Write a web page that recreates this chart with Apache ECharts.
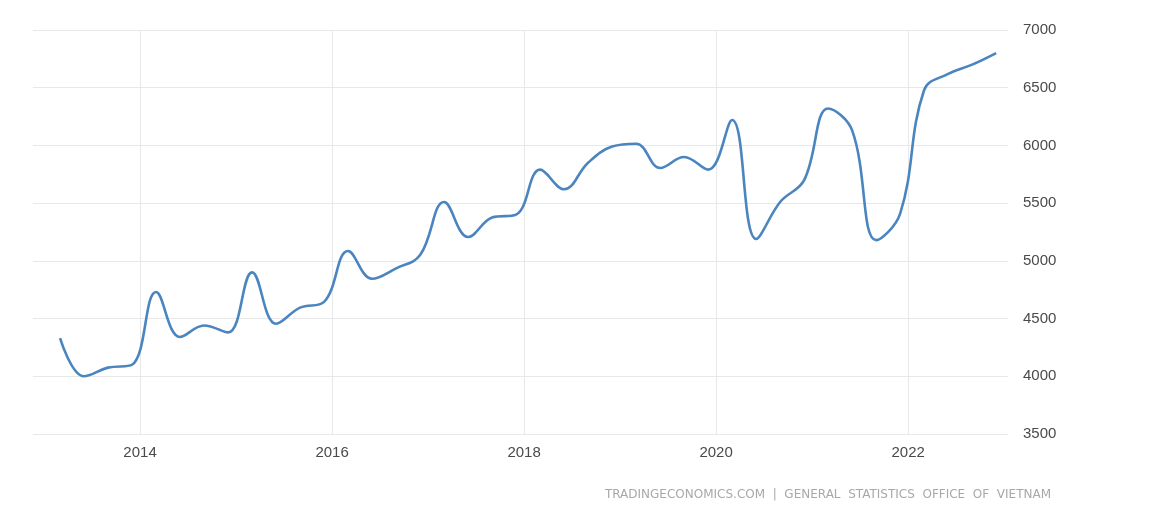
<!DOCTYPE html>
<html>
<head>
<meta charset="utf-8">
<title>Vietnam Average Monthly Income</title>
<script src="https://cdn.jsdelivr.net/npm/echarts@6/dist/echarts.min.js"></script>
<style>
  html, body { margin: 0; padding: 0; background: #ffffff; }
  #chart { width: 1163px; height: 509px; }
</style>
</head>
<body>
<div id="chart"></div>
<script>
// Quarterly observations, 2013 Q1 .. 2022 Q4 (thousand VND per month)
const quarters = [
  '2013Q1','2013Q2','2013Q3','2013Q4',
  '2014Q1','2014Q2','2014Q3','2014Q4',
  '2015Q1','2015Q2','2015Q3','2015Q4',
  '2016Q1','2016Q2','2016Q3','2016Q4',
  '2017Q1','2017Q2','2017Q3','2017Q4',
  '2018Q1','2018Q2','2018Q3','2018Q4',
  '2019Q1','2019Q2','2019Q3','2019Q4',
  '2020Q1','2020Q2','2020Q3','2020Q4',
  '2021Q1','2021Q2','2021Q3','2021Q4',
  '2022Q1','2022Q2','2022Q3','2022Q4'
];
const income = [
  4330, 4000, 4075, 4100,
  4730, 4340, 4440, 4380,
  4900, 4455, 4595, 4645,
  5085, 4845, 4935, 5050,
  5510, 5207, 5375, 5400,
  5790, 5620, 5850, 5990,
  6015, 5805, 5900, 5790,
  6220, 5190, 5510, 5700,
  6320, 6130, 5180, 5410,
  6480, 6620, 6700, 6800
];
const yearTicks = [2014, 2016, 2018, 2020, 2022];
const sourceText = 'TRADINGECONOMICS.COM  |  GENERAL  STATISTICS  OFFICE  OF  VIETNAM';

// each quarter is placed at the first day of its last month
function quarterToYear(q) {
  const y = parseInt(q.slice(0, 4), 10);
  const n = parseInt(q.slice(5), 10);
  return y + (3 * n - 1) / 12;
}
const points = quarters.map((q, i) => [quarterToYear(q), income[i]]);

const chart = echarts.init(document.getElementById('chart'), null, { renderer: 'canvas' });
chart.setOption({
  backgroundColor: '#ffffff',
  animation: false,
  grid: { left: 33, right: 155, top: 30, bottom: 75 },
  xAxis: {
    type: 'value',
    min: 2012.885,
    max: 2023.04,
    axisLine: { show: false },
    axisTick: { show: false, customValues: yearTicks },
    axisLabel: {
      customValues: yearTicks,
      formatter: v => String(Math.round(v)),
      color: '#4a4a4a',
      fontFamily: 'Liberation Sans',
      fontSize: 15,
      margin: 11
    },
    splitLine: { show: true, lineStyle: { color: '#e8e8e8', width: 1 } }
  },
  yAxis: {
    type: 'value',
    position: 'right',
    min: 3500,
    max: 7000,
    interval: 500,
    axisLine: { show: false },
    axisTick: { show: false },
    axisLabel: {
      formatter: v => String(v),
      color: '#4a4a4a',
      fontFamily: 'Liberation Sans',
      fontSize: 15,
      margin: 15
    },
    splitLine: { show: true, lineStyle: { color: '#e8e8e8', width: 1 } }
  },
  series: [{
    type: 'line',
    data: points,
    smooth: 0.4,
    showSymbol: false,
    lineStyle: { color: '#4a85bf', width: 2.6 }
  }],
  graphic: [{
    type: 'text',
    right: 112,
    top: 489,
    style: {
      text: sourceText,
      fill: '#a8a8a8',
      font: '12px "DejaVu Sans"'
    }
  }]
});
</script>
</body>
</html>
